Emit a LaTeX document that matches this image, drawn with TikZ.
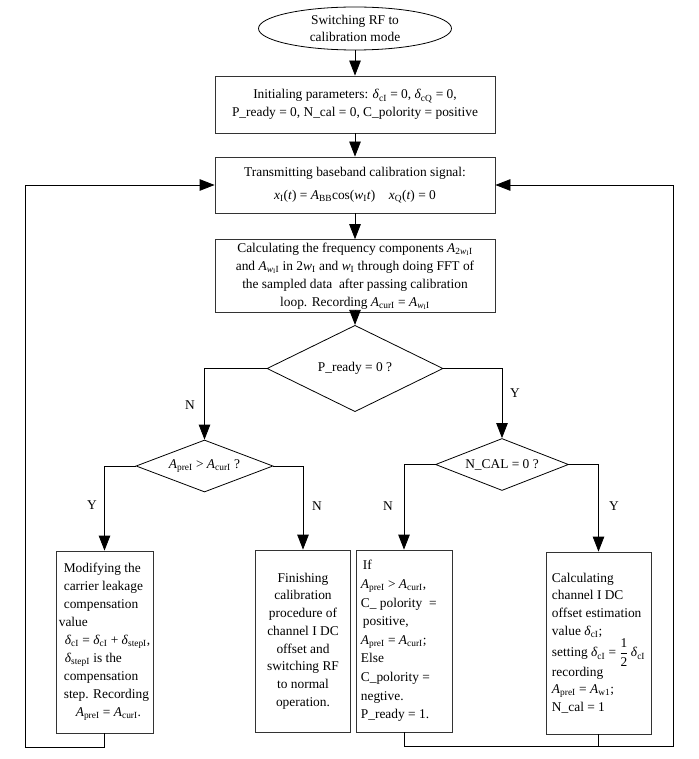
\documentclass[tikz,border=0pt]{standalone}
\usepackage{fontspec}
\setmainfont{Liberation Serif}
\usetikzlibrary{shapes.geometric,arrows.meta}
\newcommand{\sbs}[1]{\textsubscript{#1}}
\newcommand{\vA}{\textit{A}}
\newcommand{\vd}{\textit{δ}}
\begin{document}
\begin{tikzpicture}[x=1pt,y=-1pt,
  every node/.style={font=\fontsize{13.4}{17.5}\selectfont, text=black},
  box/.style={draw=black!80, line width=0.8pt, rectangle, inner sep=3pt, align=center},
  tallbox/.style={draw=black!80, line width=0.8pt, rectangle, inner sep=2pt, minimum height=182pt},
  dia/.style={draw=black, line width=0.8pt, diamond, inner sep=0pt},
  arr/.style={draw=black, line width=0.8pt, -{Triangle[length=15pt,width=11.5pt]}},
  ln/.style={draw=black, line width=0.8pt},
  lbl/.style={inner sep=0pt}]
\useasboundingbox (0,0) rectangle (698,759);
\fill[white] (0,0) rectangle (698,759);

\node[draw=black, line width=0.8pt, ellipse, minimum width=193pt, minimum height=43pt, inner sep=0pt, align=center, font=\fontsize{13.4}{16.5}\selectfont] (ell) at (355,28.5) {Switching RF to\\calibration mode};

\node[box, minimum width=280pt, minimum height=57pt] (b1) at (355,104.5)
 {Initialing parameters: \vd\sbs{cI} = 0, \vd\sbs{cQ} = 0,\\P\_ready = 0, N\_cal = 0, C\_polority = positive};

\node[box, minimum width=280pt, minimum height=56pt, font=\fontsize{13.4}{23}\selectfont] (b2) at (355,185)
 {Transmitting baseband calibration signal:\\\textit{x}\sbs{I}(\textit{t}) = \vA\sbs{BB}cos(\textit{w}\sbs{I}\textit{t})\quad \textit{x}\sbs{Q}(\textit{t}) = 0};

\node[box, minimum width=280pt, minimum height=72pt, font=\fontsize{13.4}{18}\selectfont] (b3) at (355,276)
 {Calculating the frequency components \vA\sbs{2\textit{w}\sbs{I}I}\\
  and \vA\sbs{\textit{w}\sbs{I}I} in 2\textit{w}\sbs{I} and \textit{w}\sbs{I} through doing FFT of\\
  the sampled data\ \ after passing calibration\\
  loop. Recording \vA\sbs{curI} = \vA\sbs{\textit{w}\sbs{I}I}};

\node[dia, minimum width=176pt, minimum height=51pt] (d1) at (355,368.5) {P\_ready = 0 ?};
\node[dia, minimum width=137pt, minimum height=52pt, aspect=2.6] (d2) at (204.5,466) {\vA\sbs{preI} > \vA\sbs{curI} ?};
\node[dia, minimum width=133pt, minimum height=52pt, aspect=2.6] (d3) at (502,464.5) {N\_CAL = 0 ?};

\node[tallbox, minimum width=97pt, align=left, font=\fontsize{13.4}{18}\selectfont] (bm) at (104.5,642)
 {\hspace*{5pt}Modifying the\\\hspace*{5pt}carrier leakage\\\hspace*{5pt}compensation\\value\\
  \hspace*{6pt}\vd\sbs{cI} = \vd\sbs{cI} + \vd\sbs{stepI},\\
  \hspace*{6pt}\vd\sbs{stepI} is the\\\hspace*{5pt}compensation\\\hspace*{5pt}step. Recording\\
  \hspace*{17pt}\vA\sbs{preI} = \vA\sbs{curI}.};

\node[tallbox, minimum width=95pt, align=center, font=\fontsize{13.4}{17.7}\selectfont] (bf) at (303,641)
 {Finishing\\calibration\\procedure of\\channel I DC\\offset and\\switching RF\\to normal\\operation.};

\node[tallbox, minimum width=96pt, align=left, font=\fontsize{13.4}{18.6}\selectfont] (bi) at (404,641)
 {\hspace*{2pt}If\\\vA\sbs{preI} > \vA\sbs{curI},\\C\_ polority\ \ =\\\hspace*{2pt}positive,\\
  \vA\sbs{preI} = \vA\sbs{curI};\\Else\\C\_polority =\\negtive.\\P\_ready = 1.\hspace*{18pt}};

\node[tallbox, minimum width=105pt, align=left, font=\fontsize{13.4}{17.6}\selectfont] (bc) at (598.5,643)
 {Calculating\\channel I DC\\offset estimation\\value \vd\sbs{cI};\\
  setting \vd\sbs{cI} = {\fontsize{13.4}{12}\selectfont$\displaystyle\frac{\mbox{1}}{\mbox{2}}$}\,\vd\sbs{cI}\\[-1pt]
  recording\\\vA\sbs{preI} = \vA\sbs{w1};\\N\_cal = 1};

\coordinate (lb) at (25,747);
\coordinate (rb) at (673,746);

\draw[arr] (ell) -- (b1);
\draw[arr] (b1) -- (b2);
\draw[arr] (b2) -- (b3);
\draw[arr] (b3) -- (d1);
\draw[arr] (d1.west) -| (d2.north);
\draw[arr] (d1.east) -| (d3.north);
\draw[arr] (d2.west) -| (bm.north);
\draw[arr] (d2.east) -| (bf.north);
\draw[arr] (d3.west) -| (bi.north);
\draw[arr] (d3.east) -| (bc.north);
\draw[arr] (bm.south) |- (lb) |- (b2.west);
\draw[arr] (bi.south) |- (rb) |- (b2.east);
\draw[ln] (bc.south) -- (bc.south |- rb);

\node[lbl] (lN1) at (190,405) {N};
\node[lbl] (lY1) at (515,393) {Y};
\node[lbl] (lY2) at (92,505) {Y};
\node[lbl] (lN2) at (317,506) {N};
\node[lbl] (lN3) at (388,506) {N};
\node[lbl] (lY3) at (614,506) {Y};
\end{tikzpicture}
\end{document}
